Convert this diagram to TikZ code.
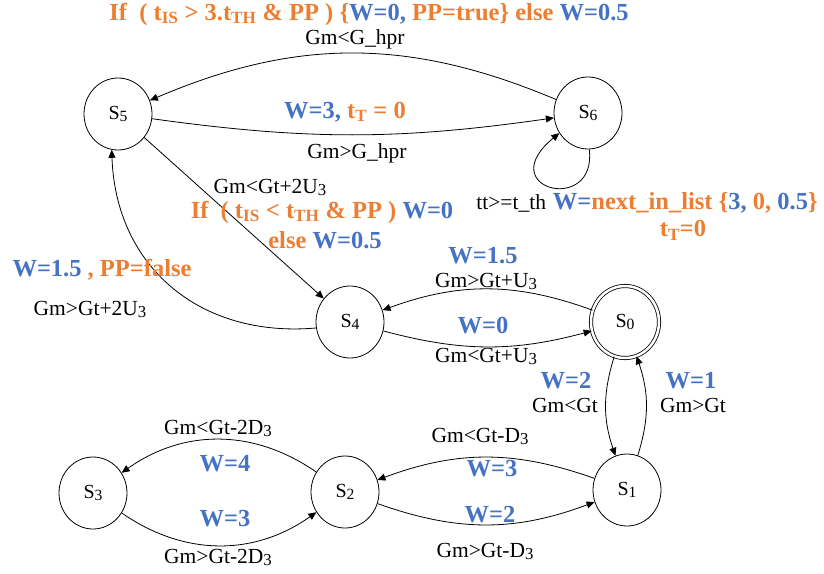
\documentclass[tikz,border=0pt]{standalone}
\usepackage{fontspec}
\setmainfont{Liberation Serif}
\usetikzlibrary{arrows.meta,shapes.geometric}
\definecolor{orng}{RGB}{237,125,49}
\definecolor{blu}{RGB}{68,114,196}
\newcommand\myLo[1]{\raisebox{-0.2ex}{\scalebox{0.78}{#1}}}
\newcommand\mySub[1]{\textsubscript{#1}}
\newcommand\myB[1]{\textcolor{blu}{#1}}
\newcommand\myO[1]{\textcolor{orng}{#1}}
\begin{document}
\begin{tikzpicture}[x=1pt,y=-1pt,
  state/.style={draw, ellipse, line width=0.8pt, minimum width=68pt, minimum height=72pt, inner sep=0pt, font=\fontsize{20}{22}\selectfont},
  arr/.style={line width=0.8pt, -{Triangle[length=8pt,width=7pt]}},
  lab/.style={font=\fontsize{21.5}{23}\selectfont, inner sep=0pt},
  blab/.style={font=\fontsize{24.5}{26}\selectfont\bfseries, inner sep=0pt}]
\useasboundingbox (0,0) rectangle (824,573);
% states
\node[state] (s5) at (118,114) {S\myLo{5}};
\node[state] (s6) at (588,113) {S\myLo{6}};
\node[state] (s4) at (350,322) {S\myLo{4}};
\node[state, double, double distance=2.5pt] (s0) at (625,322) {S\myLo{0}};
\node[state] (s1) at (627,490) {S\myLo{1}};
\node[state] (s2) at (345,492) {S\myLo{2}};
\node[state] (s3) at (93,493) {S\myLo{3}};
% edges
\draw[arr] (s6) to[bend right=23] (s5);
\draw[arr] (s5) to[bend right=8] (s6);
\draw[arr] (s6.-88) .. controls +(8,66) and +(-68,56) .. (s6.-145);
\draw[arr] (s5) -- (s4);
\draw[arr] (s4.190) to[out=185, in=-88, looseness=1.1] (s5.-100);
\draw[arr] (s0) to[bend right=20] (s4);
\draw[arr] (s4) to[bend right=15] (s0);
\draw[arr] (s0) to[bend right=18] (s1);
\draw[arr] (s1) to[bend right=18] (s0);
\draw[arr] (s1) to[bend right=20] (s2);
\draw[arr] (s2) to[bend right=20] (s1);
\draw[arr] (s2) to[bend right=35] (s3);
\draw[arr] (s3) to[bend right=35] (s2);
% labels
\node[blab] (l1) at (369,14) {\myO{If~ ( t\mySub{IS} > 3.t\mySub{TH} \& PP ) \{}\myB{W=0,} \myO{PP=true\} else} \myB{W=0.5}};
\node[lab] (l2) at (355,39) {Gm<G\_hpr};
\node[blab] (l3) at (345,112) {\myB{W=3,} \myO{t\mySub{T} = 0}};
\node[lab] (l4) at (357,153) {Gm>G\_hpr};
\node[lab] (l5) at (270,187) {Gm<Gt+2U\myLo{3}};
\node[blab] (l6) at (322,212) {\myO{If~ ( t\mySub{IS} < t\mySub{TH} \& PP )} \myB{W=0}};
\node[blab] (l7) at (325,240) {\myO{else} \myB{W=0.5}};
\node[inner sep=0pt] (l9) at (647,203) {{\fontsize{21.5}{23}\selectfont tt>=t\_th}\hspace{7pt}{\fontsize{24.5}{26}\selectfont\bfseries\myB{W=}\myO{next\_in\_list \{}\myB{3,} \myO{0,} \myB{0.5}\myO{\}}}};
\node[blab] (l10) at (683,230) {\myO{t\mySub{T}=0}};
\node[blab] (l11) at (102,270) {\myB{W=1.5} \myO{, PP=false}};
\node[lab] (l12) at (90,309) {Gm>Gt+2U\myLo{3}};
\node[blab] (l13) at (483,256) {\myB{W=1.5}};
\node[lab] (l14) at (486,281) {Gm>Gt+U\myLo{3}};
\node[blab] (l15) at (483,326) {\myB{W=0}};
\node[lab] (l16) at (486,356) {Gm<Gt+U\myLo{3}};
\node[blab] (l17) at (566,381) {\myB{W=2}};
\node[lab] (l18) at (565,405) {Gm<Gt};
\node[blab] (l19) at (691,381) {\myB{W=1}};
\node[lab] (l20) at (693,405) {Gm>Gt};
\node[lab] (l21) at (480,436) {Gm<Gt-D\myLo{3}};
\node[blab] (l22) at (492,469) {\myB{W=3}};
\node[blab] (l23) at (490,515) {\myB{W=2}};
\node[lab] (l24) at (485,551) {Gm>Gt-D\myLo{3}};
\node[lab] (l25) at (218,428) {Gm<Gt-2D\myLo{3}};
\node[blab] (l26) at (225,464) {\myB{W=4}};
\node[blab] (l27) at (225,519) {\myB{W=3}};
\node[lab] (l28) at (218,557) {Gm>Gt-2D\myLo{3}};
\end{tikzpicture}
\end{document}
